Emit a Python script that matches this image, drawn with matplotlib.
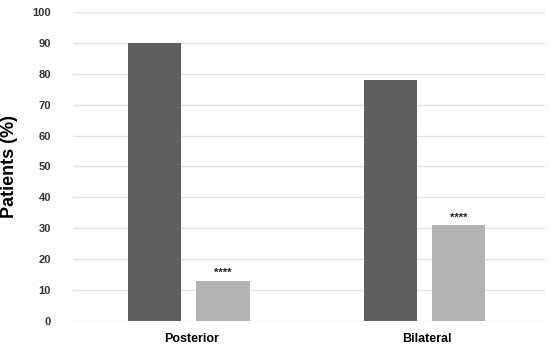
import matplotlib
matplotlib.use("Agg")
import matplotlib.pyplot as plt
import numpy as np

plt.rcParams['font.family'] = ['Liberation Sans', 'DejaVu Sans']

categories = ["Posterior", "Bilateral"]
series_dark = [90, 78]
series_light = [13, 31]
significance = ["****", "****"]
yticks = [0, 10, 20, 30, 40, 50, 60, 70, 80, 90, 100]

fig = plt.figure(figsize=(5.5, 3.5), dpi=100)
ax = fig.add_axes([0.133, 0.083, 0.858, 0.883])

x = np.arange(len(categories))
w = 0.225
ax.bar(x - 0.155, series_dark, width=w, color="#5f5f5f", zorder=3)
ax.bar(x + 0.135, series_light, width=w, color="#b3b3b3", zorder=3)
for xi, v, s in zip(x, series_light, significance):
    ax.text(xi + 0.135, v + 0.8, s, ha="center", va="bottom", fontsize=8, fontweight="bold", color="#222222")

ax.set_xlim(-0.5, 1.5)
ax.set_ylim(0, 100)
ax.set_yticks(yticks)
ax.set_yticklabels([str(t) for t in yticks], fontsize=8, fontweight="bold", color="#333333")
ax.set_xticks(x)
ax.set_xticklabels(categories, fontsize=9, fontweight="bold")
ax.tick_params(axis="both", length=0)
ax.tick_params(axis="y", pad=16)
ax.tick_params(axis="x", pad=9)
ax.grid(axis="y", color="#e3e3e3", linewidth=1, zorder=0)
for sp in ax.spines.values():
    sp.set_visible(False)
ax.set_ylabel("Patients (%)", fontsize=13, fontweight="bold")
ax.yaxis.set_label_coords(-0.117, 0.5)

fig.savefig("out.png", dpi=100)
